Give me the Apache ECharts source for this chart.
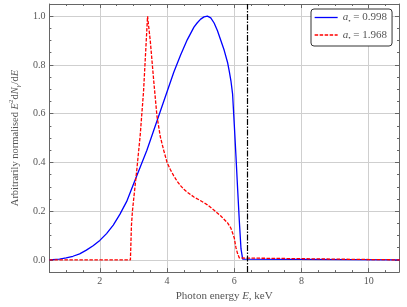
<!DOCTYPE html>
<html><head><meta charset="utf-8">
<script src="https://cdn.jsdelivr.net/npm/echarts@6/dist/echarts.min.js"></script>
<style>html,body{margin:0;padding:0;background:#fff}#c{width:407px;height:307px}</style>
</head><body><div id="c"></div>
<script>
// Photon energy (keV) and normalised spectra
const blueX = [0.5,0.8,1.0,1.2,1.4,1.6,1.8,2.0,2.2,2.4,2.6,2.8,3.0,3.2,3.4,3.6,3.8,4.0,4.2,4.4,4.6,4.8,4.9,5.0,5.1,5.2,5.3,5.4,5.5,5.6,5.7,5.8,5.85,5.9,5.95,6.0,6.05,6.1,6.15,6.2,6.25,6.3,11];
const blueY = [0,0.003,0.008,0.015,0.025,0.04,0.058,0.08,0.108,0.143,0.188,0.24,0.31,0.38,0.45,0.53,0.61,0.69,0.77,0.84,0.903,0.955,0.973,0.988,0.997,1.0,0.993,0.972,0.94,0.90,0.86,0.81,0.775,0.735,0.68,0.555,0.425,0.29,0.16,0.045,0.003,0,0];
const redX = [0.5,2.91,2.94,2.97,3.0,3.1,3.2,3.3,3.42,3.5,3.6,3.7,3.8,3.9,4.0,4.1,4.2,4.3,4.4,4.5,4.6,4.7,4.8,5.0,5.2,5.4,5.6,5.8,5.9,6.0,6.05,6.1,6.15,6.2,11];
const redY = [0,0,0.14,0.2,0.24,0.37,0.51,0.69,1.0,0.90,0.74,0.59,0.505,0.45,0.40,0.37,0.345,0.323,0.305,0.29,0.278,0.268,0.258,0.243,0.226,0.204,0.18,0.152,0.13,0.09,0.05,0.025,0.008,0,0];
const seriesNames = ['a\u2022 = 0.998', 'a\u2022 = 1.968'];
const legendValues = ['0.998', '1.968'];
const lineEnergy = [6.4];
const xMajor = [2,4,6,8,10];
const yMajor = [0,0.2,0.4,0.6,0.8,1.0];
const xRange = [0.5, 10.9];
const yRange = [-0.05, 1.05];

const FONT = 'Liberation Serif';
const frame = '#666';
const txt = '#555';
const zip = (a,b) => a.map((v,i)=>[v,b[i]]);

function xAx(pos, major, show) {
  return {
    type:'value', position:pos, min:xRange[0], max:xRange[1],
    interval: major ? undefined : 0.5,
    axisLine:{show:show, onZero:false, lineStyle:{color:frame, width:1}},
    axisTick:{show:true, inside:true, length: major?4:2, lineStyle:{color:frame},
      customValues: major ? xMajor : undefined},
    axisLabel:{show: major && pos==='bottom', customValues: major ? xMajor : undefined,
      fontFamily:FONT, fontSize:10, color:txt, margin:4},
    splitLine:{show: major && pos==='bottom', lineStyle:{color:'#cfcfcf', width:1}},
  };
}
function yAx(pos, major, show) {
  return {
    type:'value', position:pos, min:yRange[0], max:yRange[1],
    interval: major ? undefined : 0.05,
    axisLine:{show:show, onZero:false, lineStyle:{color:frame, width:1}},
    axisTick:{show:true, inside:true, length: major?4:2, lineStyle:{color:frame},
      customValues: major ? yMajor : undefined},
    axisLabel:{show: major && pos==='left', customValues: major ? yMajor : undefined,
      fontFamily:FONT, fontSize:10, color:txt, margin:4,
      formatter: v => v.toFixed(1)},
    splitLine:{show: major && pos==='left', lineStyle:{color:'#cfcfcf', width:1}},
  };
}

const xAxes = [xAx('bottom',true,true), xAx('bottom',false,false), xAx('top',true,true), xAx('top',false,false)];
xAxes[0].name = 'Photon energy {i|E}, keV';
xAxes[0].nameLocation = 'middle';
xAxes[0].nameGap = 16;
xAxes[0].nameTextStyle = {fontFamily:FONT, fontSize:11, color:txt,
  rich:{i:{fontFamily:FONT, fontSize:11, fontStyle:'italic', color:txt}}};
const yAxes = [yAx('left',true,true), yAx('left',false,false), yAx('right',true,true), yAx('right',false,false)];
yAxes[0].name = 'Arbitrarily normalised {i|E}{sup|2}d{i|N}{sub|\u03b3}/d{i|E}';
yAxes[0].nameLocation = 'middle';
yAxes[0].nameGap = 21;
yAxes[0].nameTextStyle = {fontFamily:FONT, fontSize:10.5, color:txt,
  rich:{
    i:{fontFamily:FONT, fontSize:10.5, fontStyle:'italic', color:txt},
    sup:{fontFamily:FONT, fontSize:7, color:txt, verticalAlign:'top', lineHeight:14},
    sub:{fontFamily:FONT, fontSize:7, fontStyle:'italic', color:txt, verticalAlign:'bottom', lineHeight:14}
  }};

const chart = echarts.init(document.getElementById('c'), null, {renderer:'canvas'});
chart.setOption({
  animation:false,
  grid:{left:32, right:8, top:4, bottom:27, containLabel:false},
  xAxis: xAxes,
  yAxis: yAxes,
  legend:{
    left:311, top:9, orient:'vertical', itemWidth:23, itemHeight:11, itemGap:5,
    padding:[3,5,4,3], borderColor:'#333', borderWidth:1, borderRadius:3, backgroundColor:'#fff',
    itemStyle:{opacity:0},
    lineStyle:{width:1.3},
    data: seriesNames,
    formatter: name => '{i|a}{s|\u2022}{n| = ' + legendValues[seriesNames.indexOf(name)] + '}',
    textStyle:{fontFamily:FONT, fontSize:11, color:txt,
      rich:{
        i:{fontFamily:FONT, fontSize:11, fontStyle:'italic', color:txt, lineHeight:14},
        s:{fontFamily:FONT, fontSize:7, color:txt, verticalAlign:'bottom', lineHeight:14},
        n:{fontFamily:FONT, fontSize:11, color:txt, lineHeight:14}
      }}
  },
  series:[
    {name:seriesNames[0], type:'line', data:zip(blueX,blueY), showSymbol:false, symbol:'none',
     xAxisIndex:0, yAxisIndex:0, lineStyle:{color:'#0000ff', width:1.3}, itemStyle:{color:'#0000ff'},
     markLine:{silent:true, symbol:'none', label:{show:false},
       lineStyle:{color:'#000', width:1.2, type:[6,1.5,1.5,1.5]},
       data: lineEnergy.map(v=>({xAxis:v}))}},
    {name:seriesNames[1], type:'line', data:zip(redX,redY), showSymbol:false, symbol:'none',
     xAxisIndex:0, yAxisIndex:0, lineStyle:{color:'#ff0000', width:1.3, type:[3.5,1.5]}, itemStyle:{color:'#ff0000'}}
  ]
});
</script></body></html>
